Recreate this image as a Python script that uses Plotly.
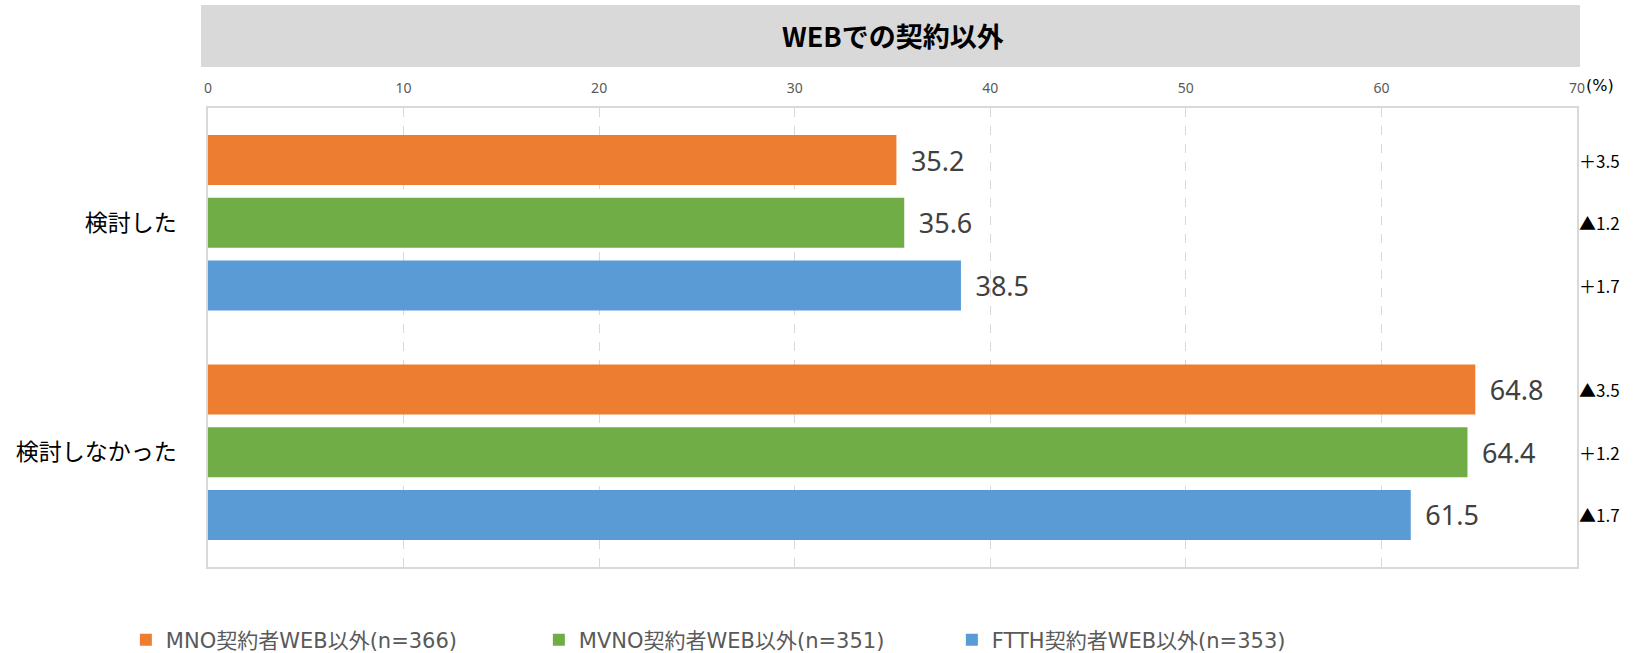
import plotly.graph_objects as go

categories = ["検討した", "検討しなかった"]
series_names = ["MNO契約者WEB以外(n=366)", "MVNO契約者WEB以外(n=351)", "FTTH契約者WEB以外(n=353)"]
mno_values = [35.2, 64.8]
mvno_values = [35.6, 64.4]
ftth_values = [38.5, 61.5]
diff_labels = {
    "MNO": ["＋3.5", "▲3.5"],
    "MVNO": ["▲1.2", "＋1.2"],
    "FTTH": ["＋1.7", "▲1.7"],
}
x_ticks = [0, 10, 20, 30, 40, 50, 60, 70]
title_text = "WEBでの契約以外"

colors = ["#ED7D31", "#70AD47", "#5B9BD5"]
series_values = [mno_values, mvno_values, ftth_values]
series_keys = ["MNO", "MVNO", "FTTH"]

JP = "Noto Sans CJK JP"
NUM = "Noto Sans, Noto Sans CJK JP"
WIDE = "DejaVu Sans, Noto Sans CJK JP"

fig = go.Figure()
for name, vals, col in zip(series_names, series_values, colors):
    fig.add_trace(go.Bar(
        y=categories, x=vals, name=name, orientation="h",
        marker=dict(color=col, line=dict(width=0)),
        text=[f" \u2009{v:.1f}" for v in vals], textposition="outside",
        textfont=dict(family=NUM, size=27, color="#404040"),
        cliponaxis=False,
    ))

bargap = 0.18
bargroupgap = 0.2
fig.update_layout(
    barmode="group", bargap=bargap, bargroupgap=bargroupgap,
    width=1641, height=653,
    margin=dict(l=208, r=64, t=108, b=86, autoexpand=False),
    paper_bgcolor="white", plot_bgcolor="white",
    showlegend=True,
    legend=dict(orientation="h", x=-0.060, xanchor="left", y=-0.159, yanchor="middle",
                font=dict(family=WIDE, size=21, color="#595959"),
                entrywidth=368, entrywidthmode="pixels", traceorder="normal"),
    font=dict(family=JP),
)
fig.update_xaxes(
    range=[0, 70], side="top", tickvals=x_ticks, automargin=False,
    tickfont=dict(family=NUM, size=14, color="#595959"), ticklabelstandoff=8,
    showgrid=True, gridcolor="#d9d9d9", griddash="dash", gridwidth=1,
    showline=True, linecolor="#d9d9d9", linewidth=1.5, mirror=True,
    zeroline=False, ticks="",
)
fig.update_yaxes(
    autorange="reversed", type="category", automargin=False,
    tickfont=dict(family=JP, size=23, color="#000000"),
    showline=True, linecolor="#d9d9d9", linewidth=1.5, mirror=True,
    ticks="", ticklabelstandoff=25,
)

# title bar
fig.add_shape(type="rect", xref="paper", yref="paper", x0=-0.0051, x1=1.0022, y0=1.0893, y1=1.2244,
              fillcolor="#d9d9d9", line=dict(width=0), layer="below")
fig.add_annotation(xref="paper", yref="paper", x=0.5, y=1.157, yanchor="middle",
                   text=f"<b>{title_text}</b>",
                   showarrow=False, font=dict(family=JP, size=27, color="#000000"))
fig.add_annotation(xref="paper", yref="paper", x=1.005, y=1.048, xanchor="left", yanchor="middle",
                   text="(%)", showarrow=False, font=dict(family=WIDE, size=16, color="#000000"))

# right-side difference labels aligned with bars
slot = (1 - bargap) / 3
for i, key in enumerate(series_keys):
    for ci, lab in enumerate(diff_labels[key]):
        fig.add_annotation(xref="paper", yref="y", x=1.0, y=ci + (i - 1) * slot,
                           xanchor="left", yanchor="middle", text=lab, showarrow=False,
                           font=dict(family=JP, size=17, color="#000000"))

fig.write_html("out.html", config={"displayModeBar": False},
               post_script="document.body.style.margin='0';")
